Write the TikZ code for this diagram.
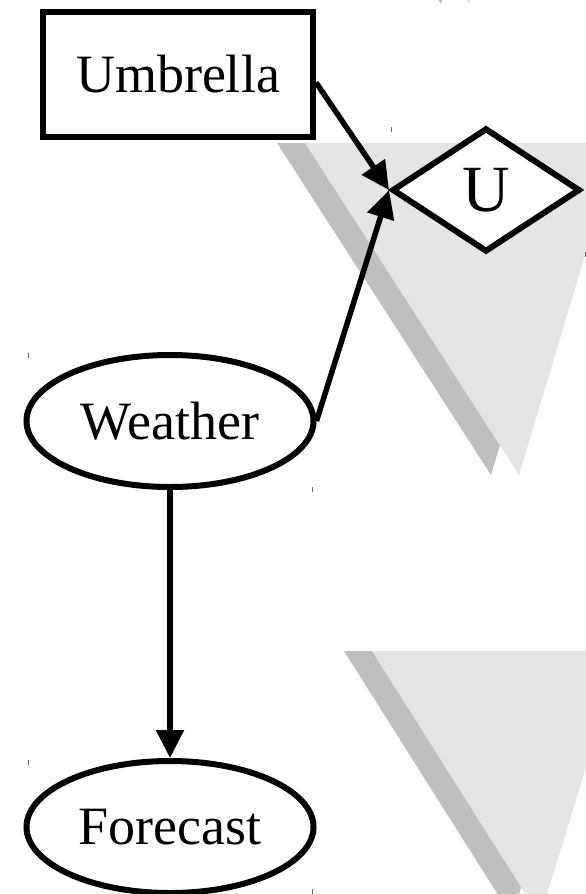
\documentclass[tikz,border=0pt]{standalone}
\usepackage{fontspec}
\setmainfont{Liberation Serif}
\usetikzlibrary{shapes.geometric,arrows.meta}
\definecolor{shadelight}{gray}{0.9}
\definecolor{shadedark}{gray}{0.75}
\begin{document}
\begin{tikzpicture}[x=1pt,y=-1pt,
    every node/.style={line width=6pt,fill=white,inner sep=0pt},
    decision/.style={draw,rectangle,minimum width=270pt,minimum height=125pt,font=\fontsize{54}{60}\selectfont},
    chance/.style={draw,ellipse,minimum width=287pt,minimum height=132pt,font=\fontsize{54}{60}\selectfont},
    utility/.style={draw,diamond,minimum width=188pt,minimum height=124pt,font=\fontsize{66}{72}\selectfont},
    link/.style={line width=5.5pt,-{Triangle[length=28pt,width=27pt]}}]
    \useasboundingbox (0,0) rectangle (586,894);
    \clip (0,0) rectangle (586,894);

    % Shadowed triangles
    \foreach \ax/\ay/\bx/\cx/\cy in {435/-50/485/469/4, 305/143/619/519/475, 372/651/622/540/917} {
        \fill[shadedark] (\ax-28,\ay) -- (\bx-28,\ay) -- (\cx-28,\cy) -- cycle;
        \fill[shadelight] (\ax,\ay) -- (\bx,\ay) -- (\cx,\cy) -- cycle;
    }

    % Nodes
    \node[decision] (umb) at (178,74.5) {Umbrella};
    \node[utility] (util) at (486,190) {U};
    \node[chance] (wea) at (170,421) {Weather};
    \node[chance] (fc) at (170,827) {Forecast};

    % Links
    \draw[link] ([yshift=-8pt]umb.east) -- (util.west);
    \draw[link] (wea.east) -- (util.west);
    \draw[link] (wea.south) -- (fc.north);

    % Corner marks
    \foreach \tx/\ty in {391/127, 585/252, 28/353, 312/487, 28/760, 312/889}
        \draw[black!60,line width=0.8pt] (\tx,\ty) -- ++(0,5);
\end{tikzpicture}
\end{document}
